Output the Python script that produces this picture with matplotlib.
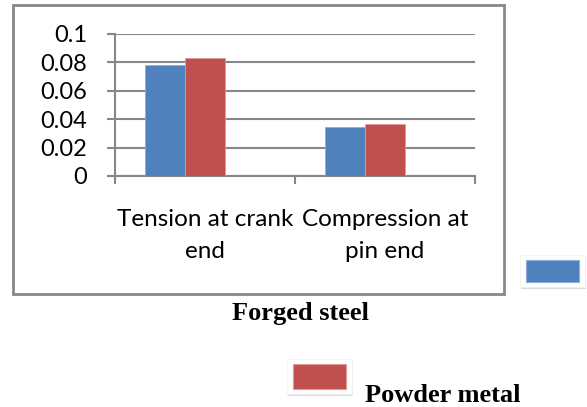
import matplotlib.pyplot as plt
from matplotlib.patches import Rectangle
import numpy as np

categories = ['Tension at crank\nend', 'Compression at\npin end']
forged_steel = [0.0785, 0.0347]
powder_metal = [0.0833, 0.0366]
yticks = [0, 0.02, 0.04, 0.06, 0.08, 0.1]
ytick_labels = ['0', '0.02', '0.04', '0.06', '0.08', '0.1']

blue = '#4F81BD'
red = '#C0504D'
grey = '#878787'

W, H = 587, 407
fig = plt.figure(figsize=(W / 100, H / 100), dpi=100)

def px_rect(x0, y0, x1, y1, **kw):
    # rectangle given in pixel coords of the picture (y down)
    r = Rectangle((x0 / W, 1 - y1 / H), (x1 - x0) / W, (y1 - y0) / H,
                  transform=fig.transFigure, **kw)
    fig.patches.append(r)

# outer chart frame
px_rect(13, 5, 504, 294, fill=False, edgecolor=grey, linewidth=2)

ax = fig.add_axes([115 / W, 1 - 176 / H, 360 / W, 142 / H])
x = np.arange(len(categories))
w = 0.222
# bars sit a little left of the category centre in the original
ax.bar(x - w, forged_steel, w, color=blue, edgecolor='#8FAEDB', linewidth=0.6, zorder=3)
ax.bar(x, powder_metal, w, color=red, edgecolor='#E09A98', linewidth=0.6, zorder=3)

ax.set_xlim(-0.5, 1.5)
ax.set_ylim(0, 0.1)
ax.set_yticks(yticks)
ax.set_yticklabels(ytick_labels, fontsize=17, family='Lato')
ax.grid(axis='y', color=grey, linewidth=1.5, zorder=0)
ax.tick_params(axis='y', length=6, width=1.5, color=grey, pad=14)

ax.set_xticks([-0.5, 0.5, 1.5], minor=True)
ax.set_xticks(x)
ax.set_xticklabels(categories, fontsize=17.5, family='Lato', linespacing=1.6)
ax.tick_params(axis='x', which='minor', length=6, width=1.5, color=grey)
ax.tick_params(axis='x', which='major', length=0, pad=24)

for s in ['top', 'right']:
    ax.spines[s].set_visible(False)
for s in ['left', 'bottom']:
    ax.spines[s].set_color(grey)
    ax.spines[s].set_linewidth(1.5)

# legend entries laid out below the chart
def swatch(x0, y0, x1, y1, color):
    px_rect(x0 - 5, y0 - 2, x1 + 7, y1 + 7, facecolor='#DCDCDC', edgecolor='none')
    px_rect(x0 - 6, y0 - 5, x1 + 6, y1 + 5, facecolor='white', edgecolor='#F0F0F0', linewidth=0.5)
    px_rect(x0, y0, x1, y1, facecolor=color, edgecolor='#8FAEDB' if color == blue else '#E09A98',
            linewidth=0.8)

swatch(526, 260, 579, 282, blue)
swatch(293, 364, 346, 389, red)
fig.text(300 / W, 1 - 320 / H, 'Forged steel', ha='center', va='baseline',
         fontsize=19, fontweight='bold', family='Liberation Serif')
fig.text(443 / W, 1 - 402 / H, 'Powder metal', ha='center', va='baseline',
         fontsize=19, fontweight='bold', family='Liberation Serif')

fig.savefig('out.png', dpi=100)
